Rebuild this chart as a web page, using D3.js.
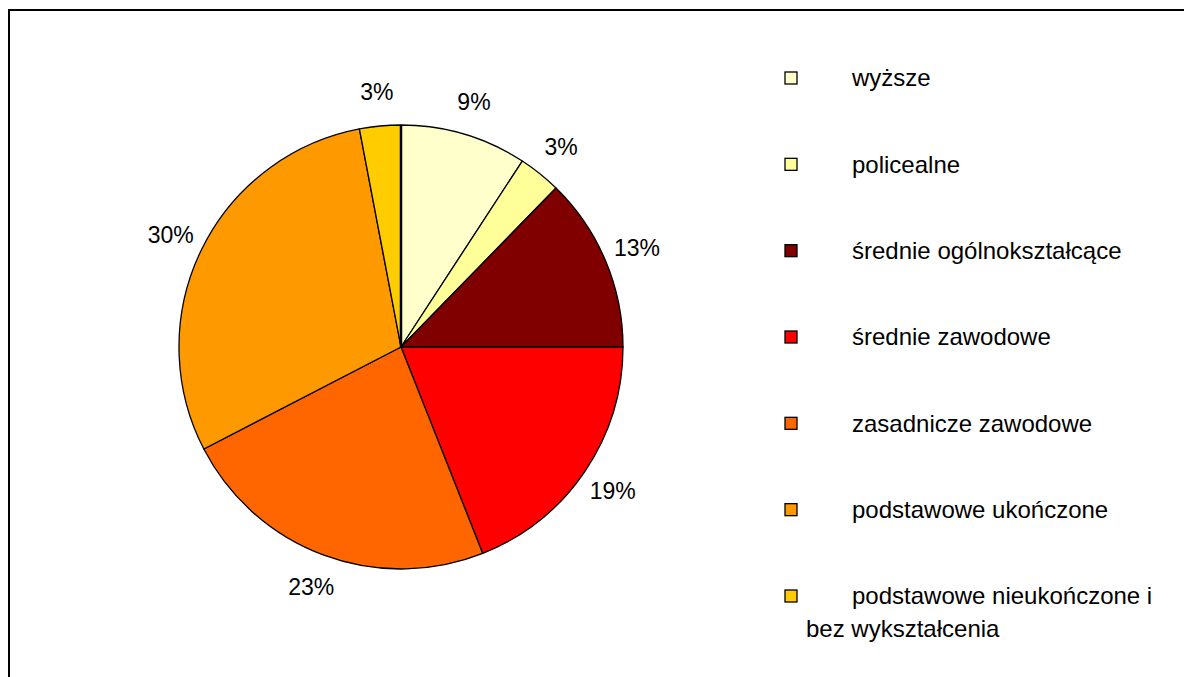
<!DOCTYPE html>
<html>
<head>
<meta charset="utf-8">
<script src="https://cdn.jsdelivr.net/npm/d3@7"></script>
<style>
body { margin: 0; background: #fff; }
text { font-family: "Liberation Sans", Arial, sans-serif; fill: #000; }
</style>
</head>
<body>
<svg id="chart" width="1184" height="677"></svg>
<script>
var categories = ["wyższe", "policealne", "średnie ogólnokształcące", "średnie zawodowe",
    "zasadnicze zawodowe", "podstawowe ukończone", "podstawowe nieukończone i bez wykształcenia"];
var values = [9.2, 3.1, 12.7, 19.0, 23.4, 29.6, 3.0];
var colors = ["#FFFFCC", "#FFFF99", "#800000", "#FF0000", "#FF6600", "#FF9900", "#FFCC00"];

var svg = d3.select("#chart");

// frame (only top and left edges show in the picture)
svg.append("rect")
    .attr("x", 9).attr("y", 10)
    .attr("width", 1300).attr("height", 800)
    .attr("fill", "none").attr("stroke", "#000").attr("stroke-width", 2);

var cx = 401, cy = 347, r = 222;

var pie = d3.pie().sort(null).value(function(d) { return d; });
var arcs = pie(values);
var arc = d3.arc().innerRadius(0).outerRadius(r);
var labelArc = d3.arc().innerRadius(256).outerRadius(256);

var g = svg.append("g").attr("transform", "translate(" + cx + "," + cy + ")");

g.selectAll("path").data(arcs).enter().append("path")
    .attr("d", arc)
    .attr("fill", function(d, i) { return colors[i]; })
    .attr("stroke", "#000")
    .attr("stroke-width", 1.3)
    .attr("stroke-linejoin", "round");

// the first radius is drawn a bit heavier in the original
g.append("line")
    .attr("x1", 0).attr("y1", 0).attr("x2", 0).attr("y2", -r)
    .attr("stroke", "#000").attr("stroke-width", 2.5);

g.selectAll("text.pct").data(arcs).enter().append("text")
    .attr("class", "pct")
    .attr("transform", function(d) { return "translate(" + labelArc.centroid(d) + ")"; })
    .attr("text-anchor", "middle")
    .attr("dy", "0.35em")
    .style("font-size", "23px")
    .text(function(d) { return Math.round(d.data) + "%"; });

// legend
var y = d3.scalePoint().domain(d3.range(categories.length)).range([78, 596]);

var leg = svg.append("g");
var rows = leg.selectAll("g").data(categories).enter().append("g")
    .attr("transform", function(d, i) { return "translate(0," + y(i) + ")"; });

rows.append("rect")
    .attr("x", 785).attr("y", -6)
    .attr("width", 12).attr("height", 12)
    .attr("fill", function(d, i) { return colors[i]; })
    .attr("stroke", "#000").attr("stroke-width", 1.3);

rows.each(function(d, i) {
    var t = d3.select(this).append("text")
        .attr("x", 852).attr("dy", "0.35em")
        .style("font-size", "24px");
    if (i === categories.length - 1) {
        t.append("tspan").attr("x", 852).text("podstawowe nieukończone i");
        t.append("tspan").attr("x", 806).attr("dy", "1.35em").text("bez wykształcenia");
    } else {
        t.text(d);
    }
});
</script>
</body>
</html>
